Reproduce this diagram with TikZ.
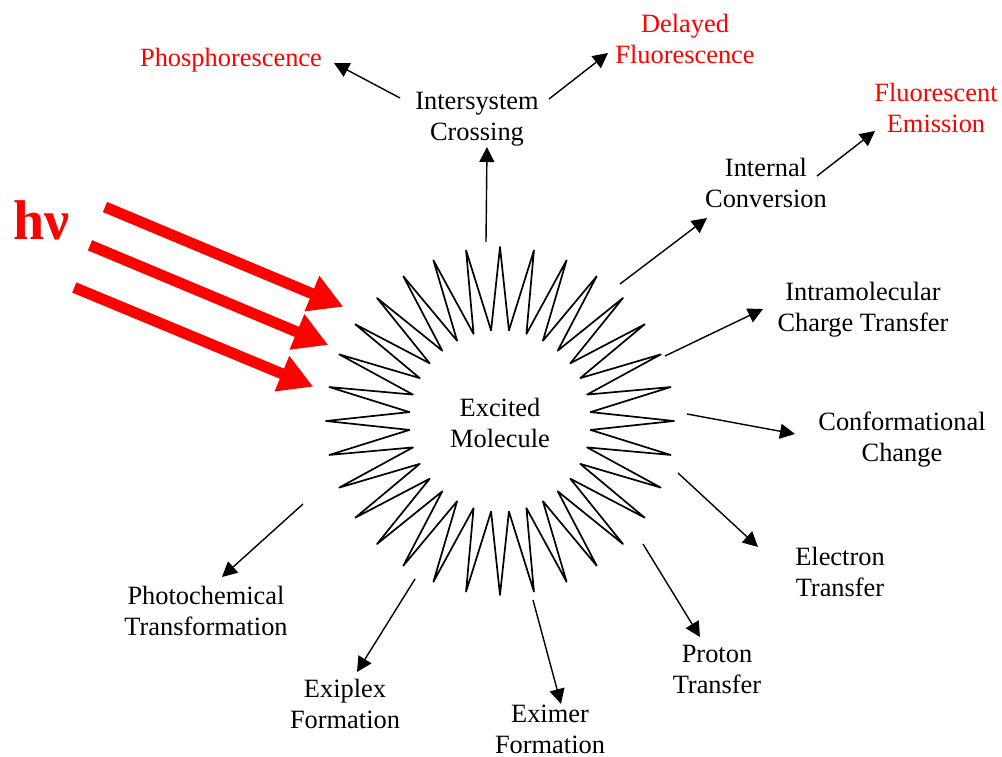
\documentclass[tikz,border=0pt]{standalone}
\usepackage{fontspec}
\setmainfont{Liberation Serif}
\usetikzlibrary{arrows.meta,calc}
\begin{document}
\begin{tikzpicture}[x=1pt,y=-1pt,
  lbl/.style={inner sep=0pt,align=center,font=\fontsize{26.4}{31}\selectfont},
  redlbl/.style={lbl,text={rgb,255:red,255;green,0;blue,0}},
  arr/.style={line width=1.4pt,-{Triangle[length=15pt,width=15pt]}},
  redarr/.style={line width=11pt,draw={rgb,255:red,255;green,0;blue,0},-{Triangle[length=34pt,width=36pt]}},
  starline/.style={line width=1.7pt,line join=round}]
\useasboundingbox (0,0) rectangle (1002,757);
\fill[white] (0,0) rectangle (1002,757);
% star
\coordinate (c) at (500,421);
\draw[starline] ($(c)+(90:174)$) \foreach \k in {0,...,31} { -- ($(c)+({95.625+11.25*\k}:91)$) -- ($(c)+({101.25+11.25*\k}:174)$) } -- cycle;
% labels
\node[lbl] (mol) at (500,423) {Excited\\Molecule};
\node[lbl] (isc) at (477,119) {Intersystem\\Crossing};
\node[redlbl] (phos) at (231,60) {Phosphorescence};
\node[redlbl] (dfl) at (685,38.5) {Delayed\\Fluorescence};
\node[redlbl] (fem) at (936,107.5) {Fluorescent\\Emission};
\node[lbl] (ic) at (766,182.5) {Internal\\Conversion};
\node[lbl] (ict) at (863,310) {Intramolecular\\Charge Transfer};
\node[lbl] (conf) at (902,440) {Conformational\\Change};
\node[lbl] (et) at (840,572) {Electron\\Transfer};
\node[lbl] (pt) at (717,669) {Proton\\Transfer};
\node[lbl] (exim) at (550,729) {Eximer\\Formation};
\node[lbl] (exip) at (345,703.5) {Exiplex\\Formation};
\node[lbl] (photo) at (206,610.5) {Photochemical\\Transformation};
\node[inner sep=0pt,anchor=base west,text={rgb,255:red,255;green,0;blue,0},font=\fontsize{56}{60}\selectfont\bfseries] (hv) at (13,240) {hν};
% connector end points
\coordinate (a1) at (486,242);  \coordinate (b1) at (487,147);
\coordinate (a2) at (400,98);   \coordinate (b2) at (334,63);
\coordinate (a3) at (549,99);   \coordinate (b3) at (608,53);
\coordinate (a4) at (817,176);  \coordinate (b4) at (875,131);
\coordinate (a5) at (620,284);  \coordinate (b5) at (707,218);
\coordinate (a6) at (665,356);  \coordinate (b6) at (763,309);
\coordinate (a7) at (687,414);  \coordinate (b7) at (795,434);
\coordinate (a8) at (678,473);  \coordinate (b8) at (758,547);
\coordinate (a9) at (643,544);  \coordinate (b9) at (700,637);
\coordinate (a10) at (533,600); \coordinate (b10) at (561,704);
\coordinate (a11) at (415,579); \coordinate (b11) at (357,672);
\coordinate (a12) at (303,504); \coordinate (b12) at (222,577);
\foreach \i in {1,...,12} {\draw[arr] (a\i) -- (b\i);}
% light arrows
\coordinate (r1s) at (105,207);   \coordinate (r1e) at (343.3,306.7);
\coordinate (r2s) at (90,245.3);  \coordinate (r2e) at (328.3,345);
\coordinate (r3s) at (74.3,287.5);\coordinate (r3e) at (313.3,386.7);
\draw[redarr] (r1s) -- (r1e);
\draw[redarr] (r2s) -- (r2e);
\draw[redarr] (r3s) -- (r3e);
\end{tikzpicture}
\end{document}
